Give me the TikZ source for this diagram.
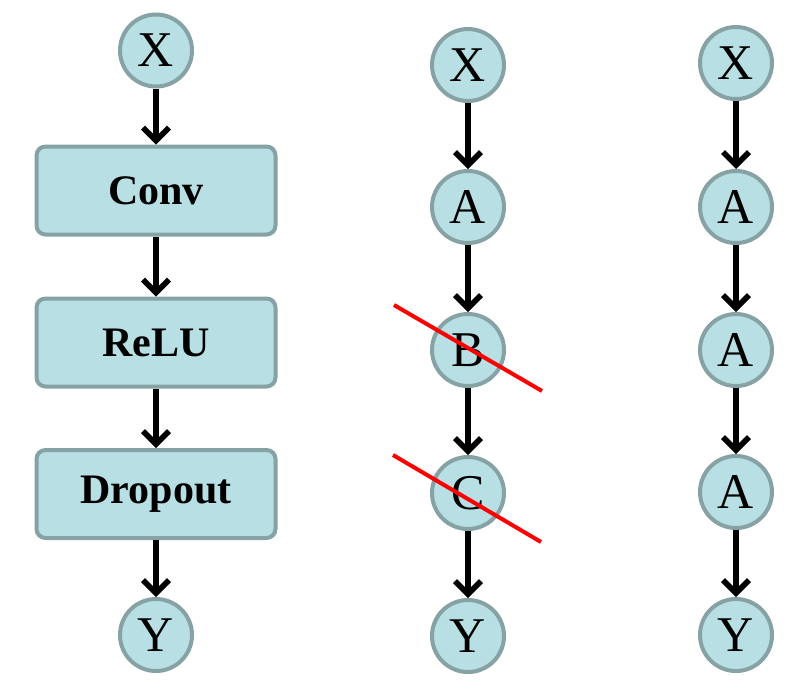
\documentclass[tikz,border=0pt]{standalone}
\usepackage{fontspec}
\setmainfont{Liberation Serif}
\usetikzlibrary{arrows.meta}
\definecolor{nodefill}{HTML}{B8DFE3}
\definecolor{nodeline}{HTML}{86A2A4}
\begin{document}
\begin{tikzpicture}[x=1pt,y=-1pt,
  cnode/.style={circle,draw=nodeline,fill=nodefill,line width=4pt,minimum size=72pt,inner sep=0pt,font=\fontsize{50}{50}\selectfont},
  lbox/.style={rectangle,rounded corners=9pt,draw=nodeline,fill=nodefill,line width=4pt,minimum width=239pt,minimum height=88pt,inner sep=0pt,font=\fontsize{42}{42}\selectfont\bfseries},
  arr/.style={line width=5.5pt,-{Straight Barb[length=13pt,width=26pt]}},
  cross/.style={red,line width=4pt}]
\useasboundingbox (0,0) rectangle (807,694);
% left column
\node[cnode] (lx) at (156,50.5) {X};
\node[lbox] (conv) at (156,190.5) {Conv};
\node[lbox] (relu) at (156,342.5) {ReLU};
\node[lbox] (drop) at (156,494) {Dropout};
\node[cnode] (ly) at (156,635) {Y};
\draw[arr] (lx) -- (conv);
\draw[arr] (conv) -- (relu);
\draw[arr] (relu) -- (drop);
\draw[arr] (drop) -- (ly);
% middle column
\node[cnode] (mx) at (468,65) {X};
\node[cnode] (ma) at (468,207) {A};
\node[cnode] (mb) at (468,350) {B};
\node[cnode] (mc) at (468,493) {C};
\node[cnode] (my) at (468,636) {Y};
\draw[arr] (mx) -- (ma);
\draw[arr] (ma) -- (mb);
\draw[arr] (mb) -- (mc);
\draw[arr] (mc) -- (my);
\coordinate (b1) at (394,305);
\coordinate (b2) at (542,391);
\coordinate (c1) at (393,455);
\coordinate (c2) at (541,542);
\draw[cross] (b1) -- (b2);
\draw[cross] (c1) -- (c2);
% right column
\node[cnode] (rx) at (736,63) {X};
\node[cnode] (ra1) at (736,207) {A};
\node[cnode] (ra2) at (736,350) {A};
\node[cnode] (ra3) at (736,492) {A};
\node[cnode] (ry) at (736,635) {Y};
\draw[arr] (rx) -- (ra1);
\draw[arr] (ra1) -- (ra2);
\draw[arr] (ra2) -- (ra3);
\draw[arr] (ra3) -- (ry);
\end{tikzpicture}
\end{document}
